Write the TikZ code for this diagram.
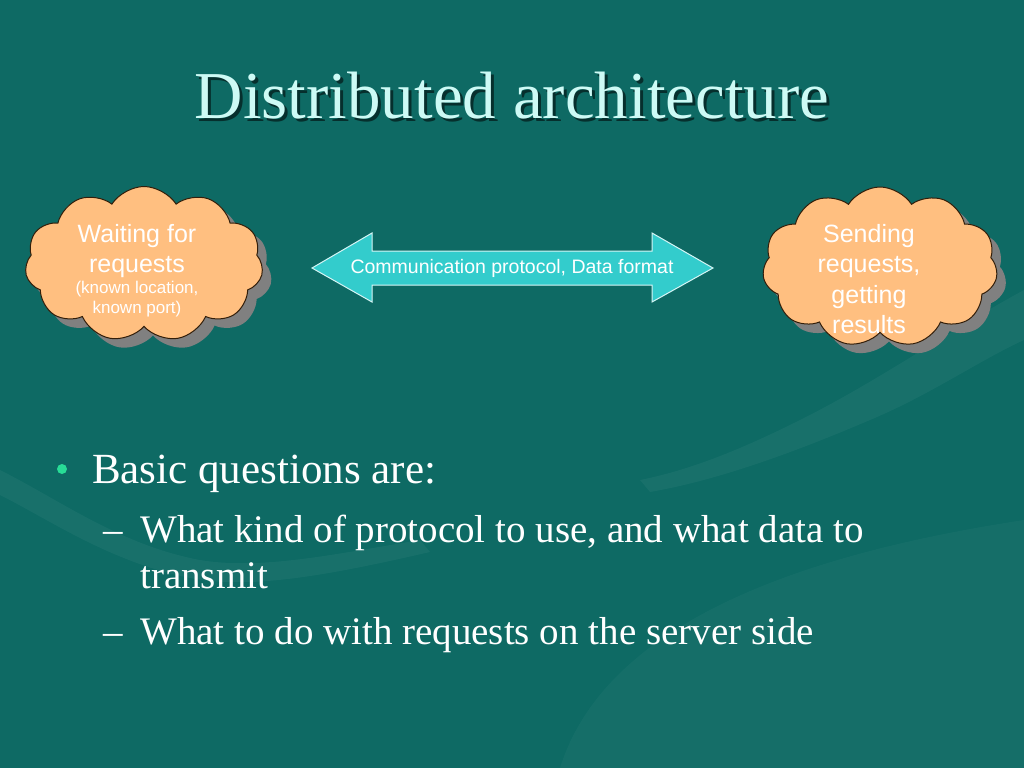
\documentclass[tikz,border=0pt]{standalone}
\usepackage{fontspec}
\setmainfont{Liberation Serif}
\newfontfamily\arialf{Liberation Sans}
\newcommand\cloudbigfont{\arialf\fontsize{25}{30.5}\selectfont}
\newcommand\cloudsmallfont{\arialf\fontsize{17}{20}\selectfont}
\usetikzlibrary{shapes.symbols,shadows}
\definecolor{bg}{RGB}{14,106,100}
\definecolor{peach}{RGB}{255,191,128}
\definecolor{turq}{RGB}{51,204,204}
\definecolor{titlec}{RGB}{205,250,245}
\definecolor{bulletc}{RGB}{40,220,150}
\definecolor{cloudline}{RGB}{50,30,10}
\begin{document}
\begin{tikzpicture}[x=1pt,y=-1pt,
  cloudbox/.style={cloud, cloud puffs=11, cloud puff arc=115, aspect=1.5,
    draw=cloudline, line width=1pt, fill=peach, inner sep=0pt,
    drop shadow={shadow xshift=9pt, shadow yshift=-9pt, fill=black!50, opacity=1}},
  cloudtext/.style={text=white, align=center, inner sep=0pt},
  bigcloud/.style={font=\cloudbigfont},
  smallcloud/.style={font=\cloudsmallfont},
  titletext/.style={font=\fontsize{67}{70}\selectfont, inner sep=0pt},
  lvlone/.style={font=\fontsize{43}{48}\selectfont, inner sep=0pt, anchor=base west, text=white},
  lvltwo/.style={font=\fontsize{39}{46}\selectfont, inner sep=0pt, anchor=base west, text=white},
  shade/.style={text=black, opacity=0.55},
  swoosh/.style={fill=white, opacity=0.045, draw=none}
]
\useasboundingbox (0,0) rectangle (1024,768);
\fill[bg] (0,0) rectangle (1024,768);
% faint background decoration
\fill[swoosh] (0,470) .. controls (60,500) and (120,545) .. (200,560)
  .. controls (260,570) and (330,555) .. (420,540)
  -- (430,552) .. controls (330,575) and (250,590) .. (190,578)
  .. controls (110,562) and (50,520) .. (0,495) -- cycle;
\fill[swoosh] (1024,290) .. controls (950,330) and (880,380) .. (800,420)
  .. controls (740,450) and (690,470) .. (640,480)
  -- (650,492) .. controls (720,480) and (800,450) .. (870,420)
  .. controls (930,395) and (980,360) .. (1024,340) -- cycle;
\fill[swoosh, opacity=0.03] (560,768) .. controls (600,640) and (760,560) .. (1024,520)
  -- (1024,768) -- cycle;

% title
\node[titletext, shade, anchor=base] (titleshadow) at (515,121) {Distributed architecture};
\node[titletext, text=titlec, anchor=base] (title) at (512,118) {Distributed architecture};

% clouds
\node[cloudbox, minimum width=238pt, minimum height=155pt] (server) at (144,264) {};
\node[cloudtext, bigcloud, anchor=north] (servertext) at (137,224) {Waiting for\\ requests};
\node[cloudtext, smallcloud] (serversmall) at (137,299) {(known location,\\ known port)};
\node[cloudbox, minimum width=235pt, minimum height=160pt] (client) at (880,267) {};
\node[cloudtext, bigcloud, anchor=north] (clienttext) at (869,224) {Sending\\ requests,\\ getting\\ results};

% double arrow
\coordinate (ltip) at (312,268);
\coordinate (rtip) at (713,268);
\draw[fill=turq, draw=white!80!turq, line width=1pt]
  (ltip) -- (372,233) -- (372,251) -- (652,251) -- (652,233) -- (rtip)
  -- (652,302) -- (652,285) -- (372,285) -- (372,302) -- cycle;
\node[text=white, font=\arialf\fontsize{19.5}{22}\selectfont, inner sep=0pt] (proto) at (512,268) {Communication protocol, Data format};

% bullets
\node[circle, fill=bulletc, minimum size=10pt, inner sep=0pt] (dot) at (62,469) {};
\node[lvlone] (b1) at (92,483) {Basic questions are:};
\node[lvltwo] (d1) at (103,542) {–};
\node[lvltwo] (b2) at (140,542) {What kind of protocol to use, and what data to};
\node[lvltwo] (b3) at (140,588) {transmit};
\node[lvltwo] (d2) at (103,644) {–};
\node[lvltwo] (b4) at (140,644) {What to do with requests on the server side};
\end{tikzpicture}
\end{document}
